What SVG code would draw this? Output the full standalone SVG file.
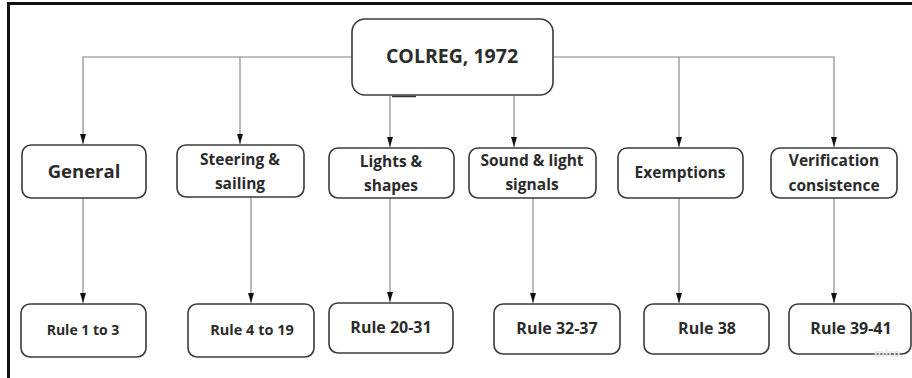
<svg xmlns="http://www.w3.org/2000/svg" width="912" height="378" viewBox="0 0 912 378">
<style>
.box{fill:#fff;stroke:#3a3a3a;stroke-width:1.6}
.lbl{font-family:"Open Sans","Liberation Sans",sans-serif;font-weight:bold;fill:#2b2b2b;text-anchor:middle}
.con{fill:none;stroke:#808080;stroke-width:1.1}
</style>
<defs>
<marker id="arr" viewBox="0 0 10 7" refX="10" refY="3.5" markerWidth="10" markerHeight="7" markerUnits="userSpaceOnUse" orient="auto">
<path d="M0,0.5 L10,3.5 L0,6.5 Z" fill="#111"/>
</marker>
</defs>
<rect x="0" y="0" width="912" height="378" fill="#fff"/>
<g id="frame">
<path d="M8.5,378 V3.5 H912" fill="none" stroke="#111" stroke-width="3"/>
</g>
<g id="connectors">
<path class="con" d="M352,57 H83 V144" marker-end="url(#arr)"/>
<path class="con" d="M240,57 V144" marker-end="url(#arr)"/>
<path class="con" d="M553,57 H834 V147" marker-end="url(#arr)"/>
<path class="con" d="M679,57 V147" marker-end="url(#arr)"/>
<path class="con" d="M390,96 V147" marker-end="url(#arr)"/>
<path class="con" d="M514,96 V147" marker-end="url(#arr)"/>
<path d="M392,96.5 H416" stroke="#333" stroke-width="1.5"/>
<path class="con" d="M83,198 V303" marker-end="url(#arr)"/>
<path class="con" d="M251,197 V303" marker-end="url(#arr)"/>
<path class="con" d="M390,198 V302" marker-end="url(#arr)"/>
<path class="con" d="M533,198 V303" marker-end="url(#arr)"/>
<path class="con" d="M679,198 V303" marker-end="url(#arr)"/>
<path class="con" d="M834,198 V303" marker-end="url(#arr)"/>
</g>
<g id="colreg">
<rect class="box" x="352" y="19" width="201" height="76" rx="13"/>
<text class="lbl" x="452" y="63" font-size="19.5">COLREG, 1972</text>
</g>
<g id="general">
<rect class="box" x="22" y="145" width="124" height="53" rx="9"/>
<text class="lbl" x="84" y="178" font-size="18.5">General</text>
</g>
<g id="steering">
<rect class="box" x="177" y="145" width="127" height="52" rx="9"/>
<text class="lbl" x="240" y="165" font-size="15.5">Steering &amp;</text>
<text class="lbl" x="240" y="189" font-size="15.5">sailing</text>
</g>
<g id="lights">
<rect class="box" x="329" y="148" width="125" height="50" rx="9"/>
<text class="lbl" x="391" y="167" font-size="15.5">Lights &amp;</text>
<text class="lbl" x="391" y="191" font-size="15.5">shapes</text>
</g>
<g id="sound">
<rect class="box" x="469" y="148" width="127" height="50" rx="9"/>
<text class="lbl" x="532" y="166" font-size="15.5">Sound &amp; light</text>
<text class="lbl" x="532" y="190" font-size="15.5">signals</text>
</g>
<g id="exemptions">
<rect class="box" x="618" y="148" width="125" height="50" rx="9"/>
<text class="lbl" x="680" y="178" font-size="15.5">Exemptions</text>
</g>
<g id="verification">
<rect class="box" x="771" y="148" width="126" height="50" rx="9"/>
<text class="lbl" x="834" y="166" font-size="15.5">Verification</text>
<text class="lbl" x="834" y="191" font-size="15.5">consistence</text>
</g>
<g id="rule1">
<rect class="box" x="21" y="304" width="125" height="53" rx="9"/>
<text class="lbl" x="83" y="335" font-size="14">Rule 1 to 3</text>
</g>
<g id="rule4">
<rect class="box" x="188" y="304" width="126" height="53" rx="9"/>
<text class="lbl" x="252" y="335" font-size="14.5">Rule 4 to 19</text>
</g>
<g id="rule20">
<rect class="box" x="329" y="303" width="124" height="50" rx="9"/>
<text class="lbl" x="391" y="333" font-size="16">Rule 20-31</text>
</g>
<g id="rule32">
<rect class="box" x="494" y="304" width="126" height="50" rx="9"/>
<text class="lbl" x="557" y="334" font-size="16">Rule 32-37</text>
</g>
<g id="rule38">
<rect class="box" x="644" y="304" width="125" height="50" rx="9"/>
<text class="lbl" x="707" y="334" font-size="16">Rule 38</text>
</g>
<g id="rule39">
<rect class="box" x="789" y="304" width="122" height="50" rx="9"/>
<text class="lbl" x="851" y="334" font-size="16">Rule 39-41</text>
</g>
<text x="887" y="357" font-family="'Open Sans','Liberation Sans',sans-serif" font-weight="bold" font-size="11" fill="#e4e4e4" text-anchor="middle">miro</text>
</svg>
